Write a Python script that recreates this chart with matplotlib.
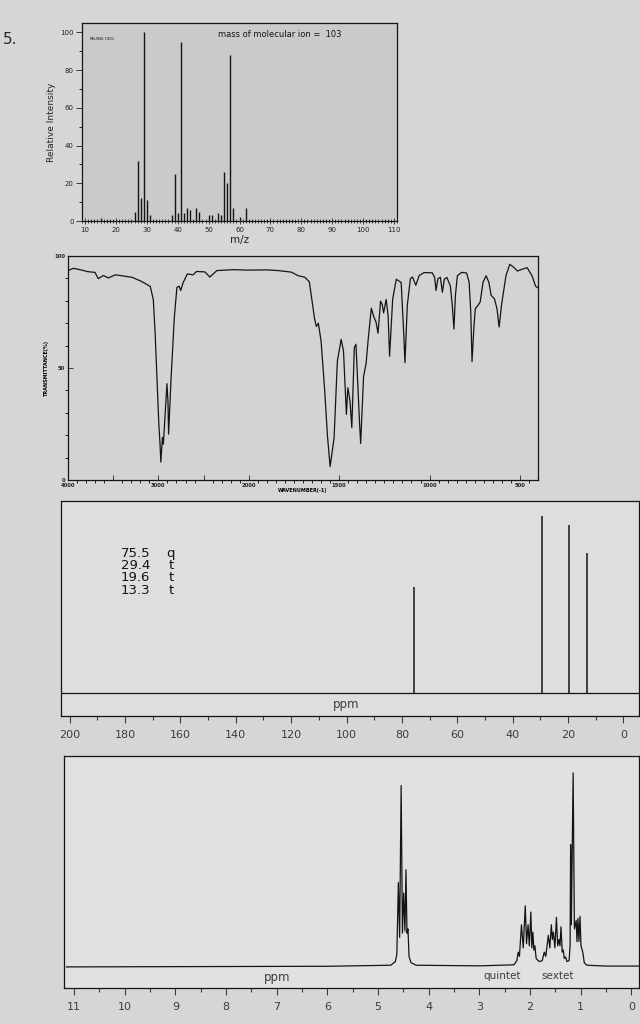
import numpy as np
import matplotlib.pyplot as plt
from matplotlib.ticker import MultipleLocator

plt.rcParams['font.family'] = ['DejaVu Sans']

# ===================== Mass spectrum =====================
ms_mz = [15, 26, 27, 28, 29, 30, 31, 38, 39, 40, 41, 42, 43, 44, 46, 47,
         50, 51, 53, 54, 55, 56, 57, 58, 60, 62]
ms_rel = [1.5, 5, 32, 12, 100, 11, 3, 3, 25, 4, 95, 4, 7, 6, 7, 5,
          3, 3, 4, 3, 26, 20, 88, 7, 2, 7]

# ===================== IR spectrum =====================
ir_wn = [4000, 3940, 3880, 3780, 3702, 3665, 3609, 3553, 3476, 3380, 3293, 3194,
         3158, 3090, 3056, 3036, 3013, 2995, 2981, 2973, 2955, 2945, 2905, 2894,
         2887, 2860, 2824, 2795, 2770, 2753, 2727, 2680, 2616, 2578, 2485, 2431,
         2353, 2168, 2018, 1900, 1839, 1764, 1727, 1690, 1665, 1650, 1636, 1626,
         1615, 1600, 1580, 1565, 1550, 1528, 1510, 1489, 1476, 1466, 1460, 1452,
         1440, 1430, 1416, 1407, 1397, 1387, 1381, 1365, 1351, 1338, 1322, 1309,
         1296, 1285, 1271, 1262, 1254, 1240, 1229, 1221, 1204, 1184, 1157, 1143,
         1136, 1123, 1106, 1094, 1076, 1057, 1030, 985, 972, 964, 954, 940,
         929, 918, 904, 885, 874, 865, 857, 846, 822, 795, 781, 772,
         765, 755, 747, 732, 720, 704, 687, 672, 659, 641, 627, 615,
         602, 577, 556, 532, 514, 487, 460, 432, 414, 400]
ir_t = [93.5, 94.5, 94, 93, 92.7, 89.9, 91.3, 90.2, 91.6, 91, 90.5, 88.8,
        88, 86.4, 80.5, 65.5, 43, 25, 15.5, 8, 19, 16, 43, 35,
        20.5, 45, 72.4, 86, 86.5, 84.6, 88, 92, 91.6, 93.1, 92.9, 90.6,
        93.5, 93.9, 93.7, 93.8, 93.5, 92.8, 91.2, 90.5, 88.5, 80, 72, 68.5,
        70, 62, 40, 20, 6, 18.8, 53, 62.8, 57.6, 39.8, 29.3, 41.2,
        35.3, 23.4, 59.1, 60.6, 42.9, 25.2, 16.3, 46.1, 52, 64, 76.7, 73,
        70.5, 65.5, 79.8, 78.4, 74.6, 80.6, 73.2, 55.3, 80.7, 89.6, 88.2, 65.8,
        52.4, 78, 89.9, 90.6, 86.9, 91.3, 92.6, 92.5, 90.5, 84.6, 89.8, 90.5,
        83.8, 89.7, 90.4, 86.7, 77.8, 67.4, 82.3, 91.2, 92.7, 92.4, 88.3, 75,
        52.8, 67.6, 76.5, 78, 79.4, 88.3, 91.2, 88.3, 82.4, 80.9, 76.5, 68.3,
        78, 91.3, 96.3, 94.8, 93.3, 94.1, 94.8, 91, 86.6, 85.8]
ir_tick_wn = [4000, 3500, 3000, 2500, 2000, 1500, 1000, 500]
ir_tick_lab = ['4000', '', '3000', '', '2000', '1500', '1000', '500']

# ===================== 13C NMR =====================
c13_shift = [75.5, 29.4, 19.6, 13.3]
c13_height = [0.55, 0.92, 0.875, 0.73]
c13_mult = ['q', 't', 't', 't']

# ===================== 1H NMR =====================
h1_ppm = [11.15, 6.0, 4.75, 4.66, 4.63, 4.60, 4.575, 4.545, 4.52, 4.495, 4.47,
          4.45, 4.43, 4.41, 4.39, 4.35, 4.25, 3.0, 2.32, 2.26, 2.235, 2.21,
          2.17, 2.135, 2.095, 2.07, 2.04, 2.015, 1.985, 1.965, 1.945, 1.925,
          1.905, 1.88, 1.82, 1.76, 1.72, 1.69, 1.64, 1.61, 1.58, 1.56, 1.54,
          1.51, 1.48, 1.455, 1.43, 1.41, 1.39, 1.365, 1.345, 1.325, 1.30, 1.27,
          1.23, 1.21, 1.20, 1.185, 1.15, 1.125, 1.09, 1.075, 1.055, 1.035,
          1.015, 0.995, 0.96, 0.93, 0.88, 0.5, -0.2]
h1_int = [0.0, 0.003, 0.008, 0.025, 0.06, 0.40, 0.14, 0.86, 0.16, 0.35, 0.17,
          0.46, 0.16, 0.18, 0.05, 0.02, 0.008, 0.005, 0.01, 0.03, 0.07, 0.05,
          0.20, 0.09, 0.29, 0.11, 0.20, 0.10, 0.26, 0.09, 0.165, 0.08,
          0.10, 0.04, 0.025, 0.03, 0.07, 0.05, 0.15, 0.09, 0.20, 0.13, 0.165,
          0.09, 0.235, 0.10, 0.13, 0.10, 0.19, 0.07, 0.08, 0.04, 0.047, 0.025,
          0.03, 0.10, 0.58, 0.20, 0.92, 0.18, 0.22, 0.12, 0.23, 0.12,
          0.24, 0.10, 0.07, 0.02, 0.008, 0.004, 0.004]
h1_notes = ['quintet', 'sextet']
h1_note_ppm = [2.55, 1.45]

# ===================== Figure =====================
W, H = 640, 1024
fig = plt.figure(figsize=(W / 100, H / 100), dpi=100)
fig.patch.set_facecolor('#d6d6d6')
INK = '#141414'
LABEL = '#3c3c3c'


def px_axes(left, top, right, bottom, face):
    ax = fig.add_axes([left / W, 1 - bottom / H, (right - left) / W, (bottom - top) / H])
    ax.set_facecolor(face)
    for s in ax.spines.values():
        s.set_linewidth(0.9)
        s.set_color(INK)
    return ax


# IR chart uses a 2x expanded scale below 2000 cm-1
def ir_fwd(w):
    w = np.asarray(w, dtype=float)
    return np.where(w > 2000, 3.2 + (w - 2000) / 1000, (w - 400) / 500)


def ir_inv(t):
    t = np.asarray(t, dtype=float)
    return np.where(t > 3.2, 2000 + (t - 3.2) * 1000, 400 + t * 500)


fig.text(3 / W, 1 - 40 / H, '5.', fontsize=11, color='#2a2a2a', va='center')

# ---- mass spectrum ----
ax = px_axes(82, 23, 397, 221, '#cacaca')
ax.vlines(ms_mz, 0, ms_rel, color=INK, lw=1.0)
ax.set_xlim(9, 111)
ax.set_ylim(0, 105)
ax.set_xticks(np.arange(10, 111, 10))
ax.xaxis.set_minor_locator(MultipleLocator(1))
ax.set_yticks(np.arange(0, 101, 20))
ax.yaxis.set_minor_locator(MultipleLocator(10))
ax.tick_params(labelsize=5, width=0.6, pad=2, colors='#222222')
ax.tick_params(axis='x', which='both', direction='inout')
ax.tick_params(axis='x', which='major', length=5)
ax.tick_params(axis='x', which='minor', length=3, width=0.5)
ax.tick_params(axis='y', which='major', length=4)
ax.tick_params(axis='y', which='minor', length=2.5)
ax.set_xlabel('m/z', fontsize=7.5, labelpad=1, color='#222222')
ax.set_ylabel('Relative Intensity', fontsize=6.5, labelpad=3, color='#222222')
ax.text(0.432, 0.944, 'mass of molecular ion =  103', transform=ax.transAxes,
        fontsize=6, va='center', ha='left', color=INK)
ax.text(0.025, 0.92, 'MS-NW-7401', transform=ax.transAxes, fontsize=2.8,
        va='center', ha='left', color=INK)

# ---- IR spectrum ----
ax = px_axes(68, 256, 538, 480, '#d3d3d3')
ax.set_xscale('function', functions=(ir_fwd, ir_inv))
ax.plot(ir_wn, ir_t, color=INK, lw=0.9)
ax.set_xlim(4000, 400)
ax.set_ylim(0, 100)
ax.set_xticks(ir_tick_wn)
ax.set_xticklabels(ir_tick_lab)
ax.set_xticks(list(range(3900, 2000, -100)) + list(range(1950, 400, -50)), minor=True)
ax.set_yticks([0, 50, 100])
ax.yaxis.set_minor_locator(MultipleLocator(10))
ax.tick_params(labelsize=3.8, direction='in', width=0.6, pad=2, colors='#222222')
ax.tick_params(which='major', length=3.5)
ax.tick_params(which='minor', length=2)
for lbl in ax.get_xticklabels() + ax.get_yticklabels():
    lbl.set_fontweight('bold')
ax.set_xlabel('WAVENUMBER(-1)', fontsize=3.5, fontweight='bold', labelpad=0)
ax.set_ylabel('TRANSMITTANCE(%)', fontsize=3.5, fontweight='bold', labelpad=4)

# ---- 13C NMR ----
ax = px_axes(61, 501, 639, 716, '#dedede')
ax.axhline(0, color=INK, lw=0.9)
ax.vlines(c13_shift, 0, c13_height, color=INK, lw=1.1)
ax.set_xlim(203.1, -5.6)
ax.set_ylim(-0.12, 1.0)
ax.set_yticks([])
ax.xaxis.set_major_locator(MultipleLocator(20))
ax.xaxis.set_minor_locator(MultipleLocator(10))
ax.tick_params(axis='x', which='both', direction='out', width=0.8,
               labelsize=8, pad=5, colors=LABEL)
ax.tick_params(axis='x', which='major', length=5)
ax.tick_params(axis='x', which='minor', length=3)
ax.text(100, -0.06, 'ppm', ha='center', va='center', fontsize=8.5, color=LABEL)
for i, (s, m) in enumerate(zip(c13_shift, c13_mult)):
    yy = 0.758 - i * 0.0577
    ax.text(0.154, yy, f'{s:.1f}', transform=ax.transAxes, ha='right', va='center',
            fontsize=9.5, color=INK)
    ax.text(0.19, yy, m, transform=ax.transAxes, ha='center', va='center',
            fontsize=9.5, color=INK)

# ---- 1H NMR ----
ax = px_axes(64, 756, 639, 988, '#e1e1e1')
ax.plot(h1_ppm, h1_int, color=INK, lw=0.9)
ax.set_xlim(11.2, -0.15)
ax.set_ylim(-0.1, 1.0)
ax.set_yticks([])
ax.xaxis.set_major_locator(MultipleLocator(1))
ax.xaxis.set_minor_locator(MultipleLocator(0.5))
ax.tick_params(axis='x', which='both', direction='out', width=0.8,
               labelsize=8, pad=5, colors=LABEL)
ax.tick_params(axis='x', which='major', length=5)
ax.tick_params(axis='x', which='minor', length=3)
ax.text(7.0, -0.05, 'ppm', ha='center', va='center', fontsize=8.5, color=LABEL)
for note, p in zip(h1_notes, h1_note_ppm):
    ax.text(p, -0.045, note, ha='center', va='center', fontsize=7.5, color=LABEL)

fig.savefig('out.png', dpi=100, facecolor=fig.get_facecolor())
